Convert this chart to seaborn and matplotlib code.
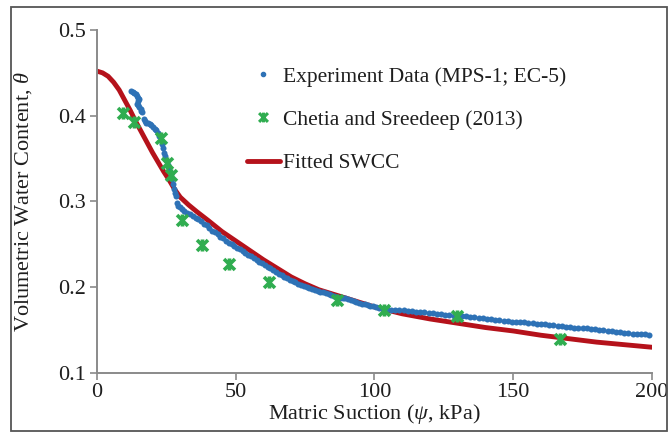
import matplotlib
matplotlib.use("Agg")
import matplotlib.pyplot as plt
import seaborn as sns
from matplotlib.path import Path
from matplotlib.lines import Line2D
from matplotlib.patches import Rectangle

# Measured drying curve (MPS-1 suction sensor, EC-5 water content sensor)
exp_suction = [
    12.4, 12.9, 13.4, 13.9, 14.4, 14.9, 15.1, 14.8, 14.5, 14.8, 15.3, 15.7, 16.0, 16.3,
    16.9, 17.3, 17.8, 18.4, 19.0, 19.6, 20.2, 20.8, 21.4, 21.9, 22.4, 22.9, 23.3, 23.7,
    24.1, 24.5, 25.0, 25.5, 26.0, 26.5, 27.0, 27.4, 27.8, 28.2, 28.5,
    28.8, 29.3, 29.9, 30.6, 31.5, 32.5, 33.5, 34.5, 35.5, 36.5, 37.5, 38.5, 39.5, 40.5,
    41.5, 42.5, 43.5, 44.5, 45.5, 46.5, 47.5, 48.5, 49.5, 50.5, 51.5, 52.5, 53.5, 54.5,
    55.5, 56.5, 57.5, 58.5, 59.5, 60.5, 61.5, 62.5, 63.5, 64.5, 65.5, 66.5, 67.5, 68.5,
    69.5, 70.5, 71.5, 72.5, 73.5, 74.5, 75.5, 76.5, 77.5, 78.5, 79.5, 80.5, 81.5, 82.5,
    83.5, 84.5, 85.5, 86.5, 87.5, 88.5, 89.5, 90.5, 91.5, 92.5, 93.5, 94.5, 95.5, 96.5,
    97.5, 98.5, 99.5, 100.5,
    101.5, 103.0, 104.5, 106.0, 107.5, 109.0, 110.5, 112.0, 113.5, 115.0, 116.5, 118.0,
    119.5, 121.0, 122.5, 124.0, 125.5, 127.0, 128.5, 130.0, 131.5, 133.0, 134.5, 136.0,
    137.5, 139.0, 140.5, 142.0, 143.5, 145.0, 146.5, 148.0, 149.5, 151.0, 152.5, 154.0,
    155.5, 157.0, 158.5, 160.0, 161.5, 163.0, 164.5, 166.0, 167.5, 169.0, 170.5, 172.0,
    173.5, 175.0, 176.5, 178.0, 179.5, 181.0, 182.5, 184.0, 185.5, 187.0, 188.5, 190.0,
    191.5, 193.0, 194.5, 196.0, 197.5, 199.0,
]
exp_theta = [
    0.429, 0.428, 0.427, 0.425, 0.423, 0.421, 0.419, 0.417, 0.414, 0.412, 0.410, 0.408, 0.406, 0.404,
    0.396, 0.394, 0.392, 0.391, 0.390, 0.389, 0.387, 0.385, 0.383, 0.380, 0.376, 0.372, 0.367, 0.362,
    0.357, 0.353, 0.348, 0.343, 0.337, 0.332, 0.326, 0.320, 0.315, 0.310, 0.306,
    0.298, 0.295, 0.293, 0.291, 0.289, 0.287, 0.285, 0.283, 0.281, 0.279, 0.277, 0.274, 0.272, 0.269,
    0.266, 0.264, 0.262, 0.259, 0.257, 0.254, 0.252, 0.250, 0.248, 0.246, 0.244, 0.242, 0.240, 0.238,
    0.236, 0.234, 0.232, 0.230, 0.228, 0.226, 0.224, 0.222, 0.220, 0.218, 0.216, 0.214, 0.212, 0.211,
    0.209, 0.207, 0.206, 0.204, 0.203, 0.201, 0.200, 0.199, 0.198, 0.197, 0.196, 0.195, 0.194, 0.193,
    0.192, 0.191, 0.190, 0.189, 0.188, 0.188, 0.187, 0.186, 0.185, 0.184, 0.183, 0.182, 0.181, 0.180,
    0.179, 0.178, 0.178, 0.177,
    0.176, 0.175, 0.175, 0.174, 0.174, 0.173, 0.173, 0.172, 0.172, 0.171, 0.171, 0.171,
    0.170, 0.170, 0.169, 0.169, 0.168, 0.168, 0.167, 0.167, 0.166, 0.166, 0.165, 0.165,
    0.164, 0.164, 0.163, 0.163, 0.162, 0.162, 0.161, 0.161, 0.160, 0.160, 0.159, 0.159,
    0.158, 0.158, 0.157, 0.157, 0.157, 0.156, 0.156, 0.155, 0.155, 0.154, 0.154, 0.153,
    0.153, 0.152, 0.152, 0.151, 0.151, 0.150, 0.150, 0.149, 0.149, 0.148, 0.148, 0.147,
    0.147, 0.146, 0.146, 0.145, 0.145, 0.144,
]

# Chetia and Sreedeep (2013)
ref_suction = [9.3, 13.3, 22.9, 25.3, 26.5, 30.8, 38.0, 47.5, 62.0, 86.6, 103.4, 129.7, 166.9]
ref_theta = [0.403, 0.393, 0.374, 0.345, 0.331, 0.278, 0.249, 0.227, 0.206, 0.185, 0.173, 0.167, 0.140]

# Fitted soil-water characteristic curve
fit_suction = [0, 2, 4, 6, 8, 10, 12, 14, 16, 18, 20, 22, 24, 26, 28, 30, 33, 36, 40, 45,
               50, 55, 60, 65, 70, 75, 80, 85, 90, 95, 100, 110, 120, 130, 140, 150, 160,
               170, 180, 190, 200]
fit_theta = [0.452, 0.450, 0.446, 0.439, 0.430, 0.418, 0.406, 0.393, 0.381, 0.369, 0.357,
             0.346, 0.335, 0.325, 0.314, 0.305, 0.296, 0.288, 0.278, 0.265, 0.254, 0.243,
             0.232, 0.222, 0.212, 0.204, 0.197, 0.192, 0.187, 0.182, 0.177, 0.169, 0.163,
             0.158, 0.153, 0.149, 0.144, 0.140, 0.136, 0.133, 0.130]

x_ticks = [0, 50, 100, 150, 200]
y_ticks = [0.1, 0.2, 0.3, 0.4, 0.5]

BLUE = "#2e72b6"
GREEN = "#30ad50"
RED = "#b5121b"
AXIS_GREY = "#8a8a8a"
TEXT = "#1e1e1e"

sns.set_theme(style="white")
plt.rcParams["font.family"] = ["Liberation Serif", "DejaVu Serif"]
plt.rcParams["mathtext.fontset"] = "custom"
plt.rcParams["mathtext.rm"] = "Liberation Serif"
plt.rcParams["mathtext.it"] = "Liberation Serif:italic"

# X-with-vertical-bar marker
star = Path(
    [(-1, -1), (1, 1), (-1, 1), (1, -1), (0, -1.1), (0, 1.1)],
    [Path.MOVETO, Path.LINETO, Path.MOVETO, Path.LINETO, Path.MOVETO, Path.LINETO],
)

fig = plt.figure(figsize=(6.7, 4.37), dpi=100)
ax = fig.add_axes([0.1448, 0.1465, 0.8283, 0.7849])

sns.lineplot(x=fit_suction, y=fit_theta, ax=ax, color=RED, linewidth=3.5,
             estimator=None, zorder=2)
sns.scatterplot(x=exp_suction, y=exp_theta, ax=ax, color=BLUE, s=19,
                linewidth=0, zorder=3)
sns.scatterplot(x=ref_suction, y=ref_theta, ax=ax, marker=star, s=75,
                color=GREEN, edgecolor=GREEN, linewidth=2.6, zorder=4)

ax.set_xlim(0, 200)
ax.set_ylim(0.1, 0.5)
ax.set_xticks(x_ticks)
ax.set_yticks(y_ticks)
ax.set_xticklabels([str(v) for v in x_ticks])
ax.set_yticklabels([f"{v:.1f}" for v in y_ticks])

for side in ("top", "right"):
    ax.spines[side].set_visible(False)
for side in ("left", "bottom"):
    ax.spines[side].set_color(AXIS_GREY)
    ax.spines[side].set_linewidth(1.4)
ax.tick_params(axis="both", direction="out", length=5, width=1.2, color=AXIS_GREY,
               labelsize=16, labelcolor=TEXT, pad=3)
ax.tick_params(axis="x", pad=2)
ax.tick_params(left=True, bottom=True)

ax.set_xlabel(r"Matric Suction ($\psi$, kPa)", fontsize=16, color=TEXT, labelpad=0)
ax.set_ylabel(r"Volumetric Water Content, $\theta$", fontsize=16, color=TEXT, labelpad=17)

handles = [
    Line2D([], [], linestyle="none", marker="o", markersize=3, color=BLUE),
    Line2D([], [], linestyle="none", marker=star, markersize=7, markeredgewidth=2.2,
           color=GREEN),
    Line2D([], [], color=RED, linewidth=3.5),
]
labels = ["Experiment Data (MPS-1; EC-5)", "Chetia and Sreedeep (2013)", "Fitted SWCC"]
ax.legend(handles, labels, loc="upper left", bbox_to_anchor=(0.235, 0.95),
          frameon=False, fontsize=15.5, labelspacing=1.08, handlelength=1.55,
          handletextpad=0.12, labelcolor=TEXT)

# Outer frame around the whole figure
fig.patches.append(Rectangle((11 / 670, 1 - 431 / 437), 656 / 670, 424 / 437,
                             transform=fig.transFigure, fill=False,
                             edgecolor="#555555", linewidth=1.3))

fig.savefig("out.png", dpi=100)
